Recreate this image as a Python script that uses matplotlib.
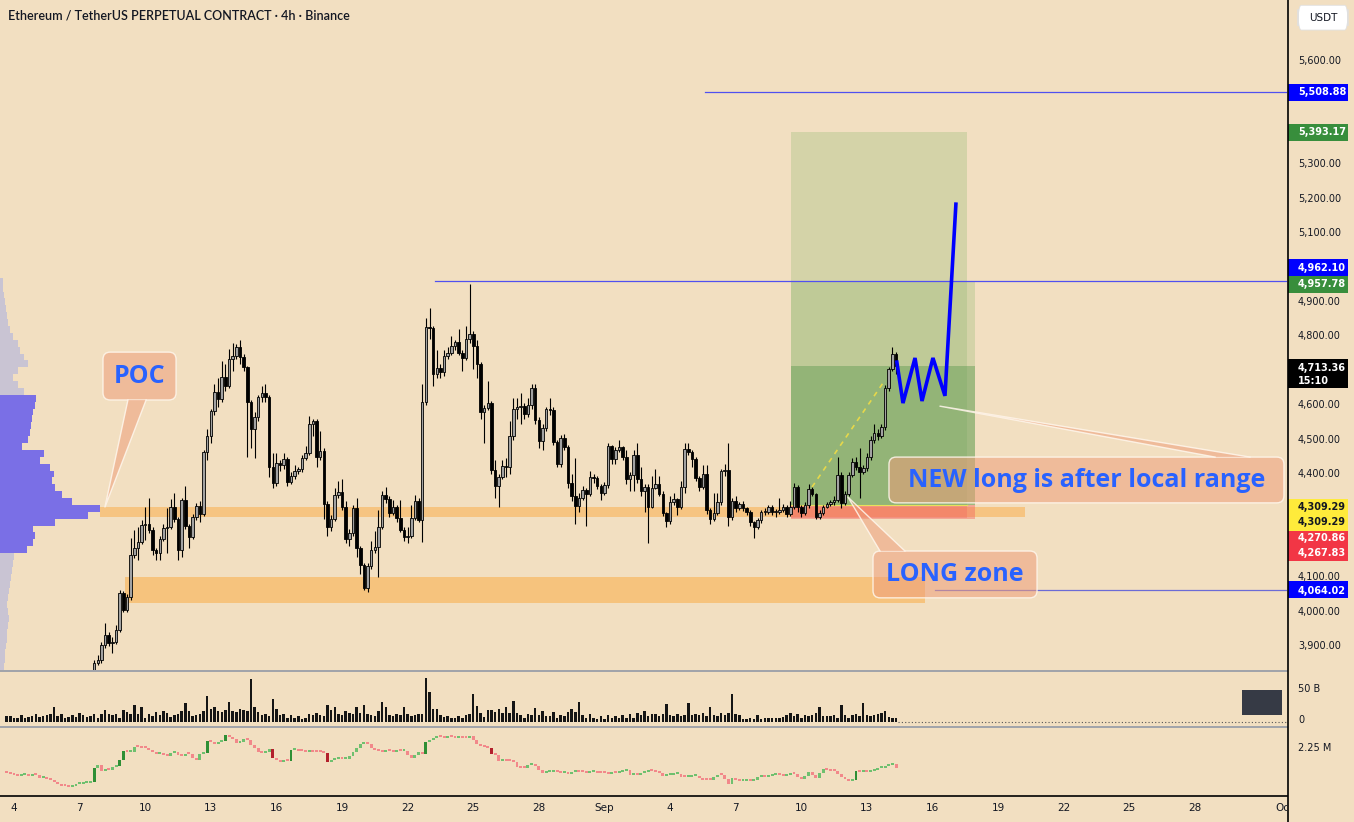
import numpy as np
import matplotlib
matplotlib.use("Agg")
import matplotlib.pyplot as plt
from matplotlib.patches import Rectangle, FancyBboxPatch, Polygon
from matplotlib.lines import Line2D

# ---------------------------------------------------------------- data
first_bar_day = 3 + 16 / 24      # Aug 3, 16:00 (x unit = day of August)
bar_days = 1 / 6                 # 4h candles
price_offset = 24                # first visible price candle inside the volume / indicator series

first_open = 3830
closes = [
    3851, 3859, 3903, 3932, 3909, 3912, 3947, 4054, 4005, 4043,
    4164, 4185, 4202, 4252, 4255, 4237, 4179, 4170, 4211, 4243,
    4246, 4304, 4269, 4179, 4324, 4249, 4217, 4275, 4307, 4284,
    4464, 4510, 4583, 4638, 4618, 4682, 4656, 4734, 4743, 4769,
    4740, 4711, 4609, 4531, 4566, 4624, 4635, 4624, 4420, 4374,
    4432, 4426, 4443, 4377, 4394, 4409, 4414, 4446, 4461, 4545,
    4554, 4449, 4467, 4313, 4246, 4269, 4339, 4348, 4304, 4211,
    4228, 4301, 4185, 4135, 4069, 4132, 4179, 4188, 4246, 4339,
    4327, 4286, 4304, 4272, 4237, 4217, 4220, 4272, 4321, 4266,
    4609, 4827, 4824, 4691, 4708, 4696, 4743, 4752, 4772, 4783,
    4752, 4737, 4792, 4807, 4772, 4720, 4580, 4592, 4606, 4411,
    4365, 4391, 4423, 4421, 4510, 4589, 4595, 4597, 4574, 4600,
    4650, 4557, 4496, 4534, 4589, 4587, 4493, 4429, 4505, 4478,
    4374, 4336, 4307, 4330, 4353, 4342, 4391, 4389, 4365, 4345,
    4368, 4481, 4443, 4470, 4478, 4449, 4385, 4397, 4455, 4385,
    4350, 4362, 4304, 4359, 4371, 4342, 4287, 4263, 4318, 4327,
    4304, 4362, 4473, 4464, 4443, 4388, 4362, 4400, 4295, 4269,
    4287, 4318, 4409, 4411, 4275, 4321, 4301, 4313, 4300, 4289,
    4260, 4246, 4266, 4289, 4290, 4304, 4289, 4290, 4295, 4304,
    4284, 4304, 4362, 4304, 4287, 4310, 4356, 4342, 4275, 4287,
    4304, 4313, 4318, 4324, 4397, 4315, 4342, 4397, 4435, 4420,
    4406, 4417, 4449, 4499, 4519, 4510, 4536, 4650, 4705, 4749, 4713,
]
highs = [
    3860, 3875, 3912, 3967, 3940, 3925, 3960, 4063, 4060, 4050,
    4214, 4237, 4246, 4266, 4304, 4330, 4245, 4185, 4220, 4255,
    4300, 4327, 4345, 4275, 4330, 4365, 4255, 4285, 4315, 4320,
    4470, 4530, 4590, 4660, 4680, 4727, 4720, 4762, 4780, 4778,
    4790, 4750, 4715, 4615, 4580, 4630, 4655, 4660, 4630, 4460,
    4460, 4440, 4460, 4450, 4405, 4425, 4420, 4455, 4480, 4567,
    4560, 4560, 4525, 4475, 4320, 4280, 4360, 4380, 4385, 4320,
    4240, 4310, 4330, 4190, 4140, 4140, 4205, 4235, 4295, 4350,
    4362, 4335, 4325, 4310, 4324, 4245, 4245, 4310, 4340, 4330,
    4660, 4853, 4882, 4830, 4760, 4720, 4760, 4770, 4800, 4790,
    4820, 4760, 4830, 4952, 4815, 4790, 4725, 4600, 4670, 4612,
    4440, 4400, 4440, 4445, 4555, 4620, 4620, 4635, 4605, 4620,
    4662, 4660, 4565, 4545, 4595, 4620, 4595, 4500, 4512, 4515,
    4485, 4400, 4445, 4345, 4365, 4360, 4410, 4400, 4395, 4370,
    4378, 4490, 4485, 4478, 4500, 4482, 4470, 4405, 4470, 4490,
    4420, 4370, 4370, 4395, 4415, 4395, 4350, 4290, 4335, 4345,
    4330, 4380, 4490, 4490, 4470, 4450, 4395, 4425, 4425, 4300,
    4345, 4345, 4415, 4430, 4491, 4330, 4335, 4318, 4320, 4305,
    4295, 4262, 4272, 4295, 4300, 4310, 4310, 4298, 4330, 4312,
    4310, 4320, 4375, 4368, 4310, 4318, 4370, 4362, 4345, 4295,
    4310, 4318, 4325, 4335, 4450, 4405, 4350, 4405, 4445, 4450,
    4475, 4425, 4460, 4510, 4545, 4530, 4545, 4658, 4712, 4770, 4755,
]
lows = [
    3820, 3845, 3850, 3895, 3900, 3880, 3905, 3940, 3998, 4000,
    4035, 4155, 4150, 4195, 4208, 4228, 4165, 4150, 4150, 4205,
    4170, 4240, 4260, 4150, 4160, 4240, 4185, 4210, 4265, 4260,
    4278, 4440, 4490, 4570, 4595, 4610, 4640, 4650, 4700, 4735,
    4720, 4700, 4449, 4475, 4445, 4555, 4610, 4610, 4390, 4360,
    4365, 4410, 4415, 4365, 4370, 4385, 4400, 4405, 4440, 4455,
    4510, 4420, 4440, 4270, 4220, 4235, 4262, 4330, 4295, 4200,
    4190, 4220, 4160, 4110, 4063, 4058, 4125, 4170, 4100, 4240,
    4315, 4275, 4280, 4260, 4230, 4205, 4200, 4215, 4265, 4260,
    4202, 4600, 4792, 4655, 4680, 4680, 4685, 4735, 4745, 4760,
    4745, 4700, 4730, 4780, 4705, 4680, 4560, 4490, 4585, 4400,
    4330, 4305, 4385, 4390, 4400, 4500, 4560, 4545, 4560, 4565,
    4590, 4545, 4475, 4470, 4525, 4570, 4485, 4420, 4420, 4470,
    4360, 4320, 4255, 4290, 4325, 4250, 4335, 4375, 4355, 4325,
    4340, 4360, 4430, 4430, 4465, 4440, 4370, 4350, 4350, 4375,
    4335, 4290, 4200, 4300, 4355, 4335, 4278, 4245, 4255, 4310,
    4280, 4298, 4345, 4455, 4420, 4380, 4350, 4355, 4285, 4255,
    4262, 4280, 4310, 4395, 4250, 4265, 4290, 4295, 4292, 4280,
    4250, 4215, 4240, 4258, 4280, 4285, 4282, 4275, 4285, 4290,
    4275, 4278, 4298, 4290, 4275, 4282, 4300, 4335, 4268, 4270,
    4282, 4300, 4308, 4310, 4318, 4300, 4310, 4335, 4390, 4412,
    4330, 4400, 4410, 4440, 4490, 4500, 4505, 4528, 4640, 4700, 4690,
]
volume_b = [
    8, 8, 5, 6, 10, 6, 7, 8, 12, 7, 9, 10,
    11, 22, 9, 12, 6, 7, 10, 7, 14, 10, 7, 8,
    12, 5, 12, 18, 12, 10, 11, 6, 18, 15, 12, 25,
    11, 22, 6, 12, 8, 15, 10, 17, 13, 7, 10, 12,
    16, 28, 16, 8, 10, 12, 16, 40, 20, 22, 17, 15,
    18, 30, 17, 15, 20, 18, 17, 65, 22, 15, 10, 12,
    8, 35, 20, 10, 12, 6, 10, 5, 8, 4, 6, 12,
    10, 14, 10, 8, 26, 18, 22, 12, 10, 16, 14, 12,
    22, 14, 26, 12, 10, 8, 16, 30, 22, 10, 8, 12,
    10, 22, 12, 8, 10, 12, 12, 67, 46, 20, 20, 10,
    7, 8, 5, 6, 8, 5, 10, 12, 42, 24, 14, 7,
    18, 18, 15, 20, 14, 22, 14, 32, 14, 10, 6, 11,
    10, 21, 10, 17, 9, 9, 15, 6, 10, 8, 15, 20,
    15, 30, 10, 6, 12, 6, 4, 8, 4, 10, 5, 8,
    6, 10, 6, 12, 6, 14, 10, 16, 8, 12, 12, 8,
    12, 27, 10, 8, 12, 8, 10, 28, 10, 12, 10, 14,
    8, 22, 10, 8, 14, 10, 14, 42, 12, 10, 4, 4,
    6, 4, 10, 4, 5, 6, 5, 6, 6, 7, 10, 14,
    8, 12, 6, 10, 8, 10, 14, 22, 8, 8, 8, 10,
    5, 25, 10, 6, 10, 12, 8, 28, 10, 8, 10, 12,
    14, 16, 7, 6, 5,
]
cvd_first_open = 2.176
cvd_m = [
    2.174, 2.171, 2.168, 2.167, 2.168, 2.169, 2.167, 2.173, 2.169, 2.161, 2.161, 2.157,
    2.153, 2.147, 2.143, 2.137, 2.135, 2.133, 2.137, 2.141, 2.143, 2.144, 2.145, 2.149,
    2.189, 2.199, 2.181, 2.184, 2.183, 2.194, 2.195, 2.214, 2.241, 2.237, 2.238, 2.254,
    2.253, 2.251, 2.249, 2.243, 2.237, 2.231, 2.232, 2.229, 2.225, 2.235, 2.237, 2.229,
    2.227, 2.233, 2.231, 2.221, 2.214, 2.231, 2.235, 2.271, 2.267, 2.261, 2.269, 2.271,
    2.289, 2.284, 2.277, 2.264, 2.267, 2.277, 2.274, 2.259, 2.249, 2.237, 2.236, 2.237,
    2.247, 2.221, 2.214, 2.209, 2.214, 2.212, 2.244, 2.245, 2.242, 2.241, 2.239, 2.240,
    2.239, 2.238, 2.237, 2.236, 2.209, 2.213, 2.217, 2.219, 2.216, 2.217, 2.227, 2.239,
    2.249, 2.261, 2.266, 2.261, 2.249, 2.243, 2.241, 2.239, 2.241, 2.240, 2.239, 2.241,
    2.240, 2.241, 2.229, 2.221, 2.229, 2.237, 2.231, 2.269, 2.273, 2.281, 2.287, 2.283,
    2.281, 2.283, 2.282, 2.281, 2.282, 2.281, 2.280, 2.287, 2.273, 2.261, 2.257, 2.253,
    2.251, 2.231, 2.230, 2.212, 2.213, 2.211, 2.210, 2.209, 2.194, 2.191, 2.189, 2.199,
    2.201, 2.196, 2.183, 2.175, 2.178, 2.179, 2.181, 2.177, 2.175, 2.177, 2.173, 2.177,
    2.181, 2.179, 2.177, 2.176, 2.177, 2.178, 2.176, 2.175, 2.174, 2.173, 2.175, 2.174,
    2.177, 2.181, 2.184, 2.169, 2.171, 2.169, 2.174, 2.179, 2.181, 2.180, 2.177, 2.175,
    2.167, 2.169, 2.170, 2.172, 2.173, 2.164, 2.163, 2.164, 2.165, 2.166, 2.159, 2.155,
    2.154, 2.153, 2.163, 2.169, 2.168, 2.157, 2.141, 2.159, 2.153, 2.151, 2.152, 2.153,
    2.152, 2.154, 2.164, 2.165, 2.164, 2.167, 2.168, 2.169, 2.168, 2.167, 2.169, 2.174,
    2.173, 2.164, 2.157, 2.165, 2.177, 2.169, 2.159, 2.174, 2.186, 2.184, 2.182, 2.181,
    2.171, 2.164, 2.157, 2.151, 2.153, 2.181, 2.177, 2.179, 2.178, 2.181, 2.185, 2.189,
    2.191, 2.197, 2.199, 2.203, 2.191,
]

# visible-range volume profile (price level, relative volume)
vp_levels = list(range(3840, 4961, 20))
vp_volume = [4, 5, 5, 6, 7, 7, 8, 9, 8, 7,
             8, 9, 10, 11, 12, 13, 14, 27, 33, 35,
             33, 55, 88, 100, 72, 62, 55, 52, 54, 50,
             40, 44, 22, 28, 30, 31, 32, 33, 35, 36,
             24, 18, 13, 18, 28, 24, 20, 18, 13, 10,
             8, 7, 6, 5, 4, 3, 3]
value_area = (4170, 4630)

poc_band = (4275, 4305)
long_zone = (4025, 4100)
entry = 4309.29
target_a, stop_a = 5393.17, 4270.86
target_b, stop_b = 4957.78, 4267.83
last_price = 4713.36
level_lines = [(5508.88, 35.60), (4962.10, 23.25), (4064.02, 46.11)]
proj_days = [44.37, 44.65, 45.20, 45.52, 46.02, 46.57, 47.07]
proj_prices = [4725, 4606, 4737, 4612, 4737, 4627, 5184]
trend_days = [40.49, 43.83]
trend_prices = [4362, 4673]

price_ticks = [5600, 5300, 5200, 5100, 4900, 4800, 4600, 4500, 4400, 4100, 4000, 3900]
date_pos = [4, 7, 10, 13, 16, 19, 22, 25, 28, 31, 34, 37, 40, 43, 46, 49, 52, 55, 58, 62.07]
date_labels = ['4', '7', '10', '13', '16', '19', '22', '25', '28', 'Sep',
               '4', '7', '10', '13', '16', '19', '22', '25', '28', 'Oct']

# ---------------------------------------------------------------- style / layout
BG = '#F2DFC1'
W, H = 1354, 822
XLIM = (3.36, 62.21)
PLIM = (3830.3, 5777.3)
DAY_PX = 21.87          # pixels per day (layout)
PRICE_PX = 2.906        # price units per pixel (layout)

fig = plt.figure(figsize=(W / 100, H / 100), dpi=100)
fig.patch.set_facecolor(BG)


def fy(py):
    return 1 - py / H


def mk(rect):
    a = fig.add_axes(rect)
    a.set_facecolor(BG)
    for s in a.spines.values():
        s.set_visible(False)
    a.set_xticks([])
    a.set_yticks([])
    return a


ax = mk([0, fy(670), 1287 / W, 670 / H])
axv = mk([0, fy(726), 1287 / W, 55 / H])
axi = mk([0, fy(795), 1287 / W, 68 / H])
axx = mk([0, 0, 1287 / W, 27 / H])
axr = mk([1287 / W, fy(670), 67 / W, 670 / H])

for a in (ax, axv, axi, axx):
    a.set_xlim(*XLIM)
ax.set_ylim(*PLIM)
axr.set_ylim(*PLIM)
axr.set_xlim(0, 1)
axv.set_ylim(-6.6, 77.5)
axi.set_ylim(2.109, 2.313)
axx.set_ylim(0, 1)

n_all = len(volume_b)
t_all = first_bar_day + np.arange(n_all) * bar_days
t_px = t_all[price_offset:price_offset + len(closes)]

# ---------------- volume profile
lv = np.array(vp_levels, float)
vv = np.array(vp_volume, float)
in_va = (lv >= value_area[0]) & (lv <= value_area[1])
vp_cols = np.where(in_va, '#7a6fe6', '#c9c4d3')
ax.barh(lv, vv / DAY_PX, height=20, left=XLIM[0], color=vp_cols, linewidth=0, zorder=2)

# ---------------- zones
ax.add_patch(Rectangle((7.93, poc_band[0]), 50.23 - 7.93, poc_band[1] - poc_band[0],
                       color='#f7c27a', alpha=0.9, lw=0, zorder=1))
ax.add_patch(Rectangle((9.08, long_zone[0]), 45.66 - 9.08, long_zone[1] - long_zone[0],
                       color='#f7c27a', alpha=0.95, lw=0, zorder=1))

pos_start, pos_end_a, pos_end_b = 39.53, 47.58, 47.94
G = '#8fb870'
ax.add_patch(Rectangle((pos_start, entry), pos_end_a - pos_start, target_a - entry,
                       color=G, alpha=0.3, lw=0, zorder=1.5))
ax.add_patch(Rectangle((pos_start, entry), pos_end_b - pos_start, target_b - entry,
                       color=G, alpha=0.3, lw=0, zorder=1.5))
ax.add_patch(Rectangle((pos_start, entry), pos_end_b - pos_start, last_price - entry,
                       color='#5f9a50', alpha=0.45, lw=0, zorder=1.6))
ax.add_patch(Rectangle((pos_start, stop_b), pos_end_b - pos_start, entry - stop_b,
                       color='#f2665e', alpha=0.45, lw=0, zorder=1.6))
ax.add_patch(Rectangle((pos_start, stop_a), pos_end_a - pos_start, entry - stop_a,
                       color='#f2665e', alpha=0.35, lw=0, zorder=1.6))
ax.plot([pos_start, pos_end_a], [entry, entry], color='#e9e05a', lw=0.8, zorder=1.7)

# level lines
for lvl, start in level_lines:
    col = '#6b6bd6' if lvl < 4500 else '#5050f0'
    ax.plot([start, XLIM[1]], [lvl, lvl], color=col, lw=0.9, zorder=2)

# ---------------- candles
c = np.array(closes, float)
o = np.concatenate([[first_open], c[:-1]])
h = np.maximum(np.array(highs, float), np.maximum(o, c))
l = np.minimum(np.array(lows, float), np.minimum(o, c))
up = c >= o
ax.vlines(t_px, l, h, color='#000000', lw=0.8, zorder=4)
ax.bar(t_px, np.maximum(np.abs(c - o), 3.0), bottom=np.minimum(o, c), width=bar_days * 0.7,
       color=np.where(up, '#a2a2a2', '#000000'), edgecolor='#000000', linewidth=0.6, zorder=5)

# trend line and projection
ax.plot(trend_days, trend_prices, color='#e6d84a', lw=1.2, ls=(0, (3, 3)), zorder=6)
ax.plot(proj_days, proj_prices, color='#0000ff', lw=2.6, zorder=7, solid_joinstyle='miter')

# ---------------- callouts
CALL_FC = (0.93, 0.62, 0.48, 0.55)
CALL_EC = (1, 0.97, 0.93, 0.85)
TXT = '#2962ff'
ASPECT = PRICE_PX * DAY_PX
CALL_FONT = ['Open Sans', 'DejaVu Sans']


def callout(x0, x1, p_bot, p_top, base, tip, text, tc):
    ax.add_patch(FancyBboxPatch((x0, p_bot), x1 - x0, p_top - p_bot,
                                boxstyle='round,pad=0,rounding_size=0.33',
                                mutation_aspect=ASPECT, fc=CALL_FC, ec=CALL_EC,
                                lw=1.0, zorder=8))
    (bx0, bx1, bp) = base
    ax.add_patch(Polygon([(bx0, bp), tip, (bx1, bp)], closed=True, fc=CALL_FC,
                         ec='none', zorder=8))
    ax.plot([bx0, tip[0], bx1], [bp, tip[1], bp], color=CALL_EC, lw=1.0, zorder=8.1)
    ax.text(tc[0], tc[1], text, ha='center', va='center', fontsize=18,
            fontweight='bold', family=CALL_FONT, color=TXT, zorder=9)


callout(8.07, 11.41, 4615, 4754, (9.21, 10.04, 4615), (8.16, 4304), 'POC', (9.74, 4684))
callout(44.01, 62.07, 4316, 4449, (58.92, 60.52, 4449), (46.34, 4597),
        'NEW long is after local range', (53.06, 4382))
callout(43.28, 50.78, 4040, 4176, (43.60, 44.74, 4176), (42.13, 4333),
        'LONG zone', (47.03, 4108))

ax.text(0.0062, 1 - 16 / 670, 'Ethereum / TetherUS PERPETUAL CONTRACT · 4h · Binance',
        transform=ax.transAxes, ha='left', va='center', fontsize=9,
        family=['Lato', 'DejaVu Sans'], fontweight='semibold', color='#131722', zorder=10)

# ---------------- volume panel
axv.bar(t_all, volume_b, width=bar_days * 0.68, color='#151515', linewidth=0)
axv.plot([t_all[-1] + 0.1, XLIM[1]], [0, 0], color='#555555', lw=0.8, ls=(0, (1, 2)))
axv.add_patch(Rectangle((0.965, 0.2), 0.031, 0.455, transform=axv.transAxes,
                        color='#363a45', lw=0))

# ---------------- indicator panel
v = np.array(cvd_m, float)
vo = np.concatenate([[cvd_first_open], v[:-1]])
dv = v - vo
ind_cols = []
for d in dv:
    if d >= 0:
        ind_cols.append('#2f8f35' if d >= 0.018 else '#6fc06f')
    else:
        ind_cols.append('#b3202c' if d <= -0.018 else '#f2888a')
axi.bar(t_all, np.maximum(np.abs(dv), 0.006), bottom=np.minimum(vo, v),
        width=bar_days * 0.8, color=ind_cols, linewidth=0)

# ---------------- date axis
for pos, lab in zip(date_pos, date_labels):
    axx.text(pos, 0.52, lab, ha='center', va='center', fontsize=7.5,
             color='#131722', clip_on=True)

# ---------------- right price axis
for t in price_ticks:
    axr.text(0.164, t, f'{t:,.2f}', ha='left', va='center', fontsize=7, color='#131722')

TAG_H = 17 * PRICE_PX


def tag(center, height, color, lines, tcolor='white'):
    axr.add_patch(Rectangle((0.015, center - height / 2), 0.895, height, color=color, lw=0))
    for txt, p in lines:
        axr.text(0.164, p, txt, ha='left', va='center', fontsize=7, color=tcolor,
                 fontweight='bold')


tag(5508.88, TAG_H, '#0000ff', [('5,508.88', 5508.88)])
tag(target_a, TAG_H, '#388e3c', [(f'{target_a:,.2f}', target_a)])
tag(4998.5, TAG_H, '#0000ff', [('4,962.10', 4998.5)])
tag(4951.5, TAG_H, '#388e3c', [(f'{target_b:,.2f}', 4951.5)])
tag(4692, 29 * PRICE_PX, '#000000', [(f'{last_price:,.2f}', 4708), ('15:10', 4670)])
tag(4281, 32 * PRICE_PX, '#ffeb3b', [(f'{entry:,.2f}', 4304), (f'{entry:,.2f}', 4260)],
    tcolor='#131722')
tag(4192, 30 * PRICE_PX, '#f23645', [(f'{stop_a:,.2f}', 4214), (f'{stop_b:,.2f}', 4170)])
tag(4064.02, TAG_H, '#0000ff', [('4,064.02', 4060)])

axr.add_patch(FancyBboxPatch((0.164, 5690), 0.746, 72, boxstyle='round,pad=0,rounding_size=0.05',
                             mutation_aspect=1200, fc='white', ec='#e0e0e0', lw=0.6))
axr.text(0.537, 5726, 'USDT', ha='center', va='center', fontsize=7.5, color='#131722')

fig.text(1298 / W, fy(689), '50 B', ha='left', va='center', fontsize=7, color='#131722')
fig.text(1298 / W, fy(720), '0', ha='left', va='center', fontsize=7, color='#131722')
fig.text(1298 / W, fy(748), '2.25 M', ha='left', va='center', fontsize=7, color='#131722')

# ---------------- separators
for yy, col, lw in ((670.5, '#9a9ea8', 1.3), (726.5, '#9a9ea8', 1.3), (795.5, '#000000', 1.2)):
    fig.add_artist(Line2D([0, 1287 / W], [fy(yy), fy(yy)], color=col, lw=lw))
fig.add_artist(Line2D([1287.5 / W, 1287.5 / W], [0, 1], color='#000000', lw=1.2))

fig.savefig('out.png', dpi=100, facecolor=BG)
